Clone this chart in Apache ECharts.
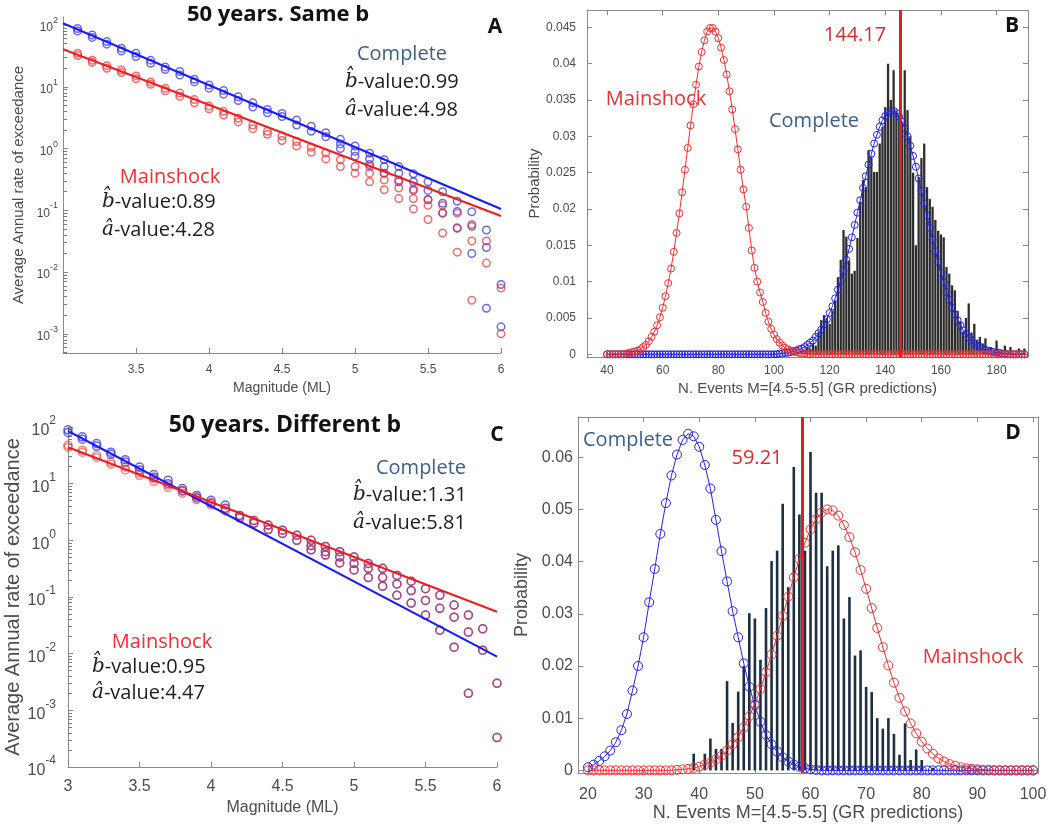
<!DOCTYPE html>
<html>
<head>
<meta charset="utf-8">
<script src="https://cdn.jsdelivr.net/npm/echarts@6/dist/echarts.min.js"></script>
<style>
  html, body { margin: 0; padding: 0; background: #fff; }
  #chart { width: 1049px; height: 828px; }
</style>
</head>
<body>
<div id="chart"></div>
<script>
// ---------- panel A : 50 years, same b ----------
const magA = [3.1, 3.2, 3.3, 3.4, 3.5, 3.6, 3.7, 3.8, 3.9, 4.0, 4.1, 4.2, 4.3, 4.4, 4.5,
              4.6, 4.7, 4.8, 4.9, 5.0, 5.1, 5.2, 5.3, 5.4, 5.5, 5.6, 5.7, 5.8, 5.9, 6.0];
const completeRatesA = [
  [88, 80], [69, 63], [54, 49], [42, 38], [35, 31], [27, 24], [21, 19], [17.7, 15.5],
  [13.2, 12], [10.7, 9.5], [8.7, 7.6], [6.9, 6.0], [5.5, 4.7], [4.3, 3.8], [3.7, 3.3],
  [2.9, 2.4], [2.3, 1.9], [1.8, 1.55], [1.41, 1.19, 1.0], [1.1, 0.9, 0.75],
  [0.84, 0.68, 0.55], [0.66, 0.51, 0.40], [0.51, 0.40, 0.29], [0.39, 0.29, 0.21],
  [0.29, 0.21, 0.15], [0.20, 0.13, 0.09], [0.14, 0.096, 0.052], [0.095, 0.055, 0.020],
  [0.048, 0.025, 0.0026], [0.0063, 0.0013]
];
const mainshockRatesA = [
  [35, 32], [27, 25], [22, 20], [18.7, 17], [15, 13.5], [12, 11], [9.5, 8.6], [7.9, 7.0],
  [6.2, 5.5], [4.9, 4.4], [4.0, 3.5], [3.1, 2.7], [2.4, 2.1], [1.9, 1.7], [1.6, 1.35],
  [1.3, 1.1], [1.05, 0.87], [0.85, 0.68], [0.66, 0.51], [0.51, 0.40],
  [0.51, 0.40, 0.29], [0.40, 0.31, 0.215], [0.31, 0.23, 0.155], [0.22, 0.155, 0.105],
  [0.148, 0.12, 0.071], [0.12, 0.091, 0.043], [0.09, 0.051, 0.021], [0.059, 0.032, 0.0035],
  [0.032, 0.014], [0.0055, 0.001]
];
const completeFitA = [[3.0, 107], [6.0, 0.105]];
const mainshockFitA = [[3.0, 40.6], [6.0, 0.081]];
const xTicksA = [3.5, 4, 4.5, 5, 5.5, 6];

// ---------- panel C : 50 years, different b ----------
const magC = [3.0, 3.1, 3.2, 3.3, 3.4, 3.5, 3.6, 3.7, 3.8, 3.9, 4.0, 4.1, 4.2, 4.3, 4.4, 4.5,
              4.6, 4.7, 4.8, 4.9, 5.0, 5.1, 5.2, 5.3, 5.4, 5.5, 5.6, 5.7, 5.8, 5.9, 6.0];
const completeHeadC = [
  [89, 80], [67, 61], [51, 46], [36, 33], [26.5, 24], [19.6, 17.5], [14.5, 13], [11.5, 10],
  [8.2, 7.4], [6.2, 5.6], [5.1, 4.5], [4.2, 3.7]
];
const mainshockHeadC = [
  [48, 44], [39, 36], [31.6, 29], [24, 22], [19.6, 17.5], [15.4, 14], [12.3, 11], [9.4, 8.6],
  [7.6, 6.8], [5.8, 5.2], [4.7, 4.2], [3.6, 3.3]
];
// M >= 4.2 : both catalogues give the same circles
const sharedTailC = [
  [2.75, 2.5], [2.24, 2.0], [1.86, 1.55], [1.51, 1.32], [1.23, 1.0], [1.0, 0.81, 0.68],
  [0.78, 0.63, 0.55], [0.63, 0.51, 0.40], [0.51, 0.39, 0.30], [0.39, 0.32, 0.22],
  [0.32, 0.22, 0.155], [0.24, 0.17, 0.107], [0.19, 0.13, 0.078], [0.14, 0.087, 0.048],
  [0.107, 0.063, 0.026], [0.072, 0.044, 0.013], [0.048, 0.024, 0.002], [0.0275, 0.0115],
  [0.003, 0.00033]
];
const completeFitC = [[3.0, 85], [6.0, 0.0089]];
const mainshockFitC = [[3.0, 44], [6.0, 0.055]];
const xTicksC = [3, 3.5, 4, 4.5, 5, 5.5, 6];

// ---------- panel B : distributions, same b ----------
const eventsStartB = 40;   // circles at every integer 40..190
const probCompleteB = [
  0, 0, 0, 0, 0, 0, 0, 0, 0, 0,
  0, 0, 0, 0, 0, 0, 0, 0, 0, 0,
  0, 0, 0, 0, 0, 0, 0, 0, 0, 0,
  0, 0, 0, 0, 0, 0, 0, 0, 0, 0,
  0, 0, 0, 0, 0, 0, 0, 0, 0, 0,
  0, 0, 0, 0, 0, 0, 0, 0, 0, 0,
  0, 0,
  0.0001, 0.0001, 0.0002, 0.0002, 0.0003, 0.0004, 0.0005, 0.0007, 0.0008, 0.0010,
  0.0013, 0.0016, 0.0019, 0.0024, 0.0029, 0.0034, 0.0041, 0.0048, 0.0057, 0.0066,
  0.0077, 0.0089, 0.0101, 0.0115, 0.0130, 0.0145, 0.0161, 0.0178, 0.0195, 0.0212,
  0.0229, 0.0245, 0.0261, 0.0276, 0.0290, 0.0302, 0.0313, 0.0322, 0.0328, 0.0333,
  0.0335, 0.0335, 0.0332, 0.0327, 0.0320, 0.0311, 0.0300, 0.0287, 0.0273, 0.0258,
  0.0242, 0.0225, 0.0208, 0.0191, 0.0174, 0.0158, 0.0142, 0.0127, 0.0112, 0.0099,
  0.0086, 0.0075, 0.0064, 0.0055, 0.0047, 0.0040, 0.0033, 0.0028, 0.0023, 0.0019,
  0.0015, 0.0012, 0.0010, 0.0008, 0.0006, 0.0005, 0.0004, 0.0003, 0.0002, 0.0002,
  0.0001, 0.0001,
  0, 0, 0, 0, 0, 0, 0
];
const probMainshockB = [
  0, 0, 0, 0, 0, 0, 0,
  0.0001, 0.0002, 0.0003, 0.0004, 0.0005, 0.0007, 0.0010, 0.0013, 0.0018, 0.0024,
  0.0031, 0.0040, 0.0051, 0.0064, 0.0080, 0.0098, 0.0118, 0.0141, 0.0167, 0.0194,
  0.0223, 0.0254, 0.0284, 0.0315, 0.0344, 0.0371, 0.0396, 0.0416, 0.0432, 0.0444,
  0.0449, 0.0449, 0.0444, 0.0435, 0.0422, 0.0405, 0.0385, 0.0362, 0.0337, 0.0310,
  0.0282, 0.0254, 0.0227, 0.0203, 0.0174, 0.0143, 0.0119, 0.0100, 0.0085, 0.0072,
  0.0057, 0.0045, 0.0035, 0.0027, 0.0021, 0.0016, 0.0012, 0.0009, 0.0007, 0.0005,
  0.0004, 0.0003, 0.0002, 0.0001, 0.0001,
  0, 0, 0, 0, 0, 0, 0, 0, 0, 0,
  0, 0, 0, 0, 0, 0, 0, 0, 0, 0,
  0, 0, 0, 0, 0, 0, 0, 0, 0, 0,
  0, 0, 0, 0, 0, 0, 0, 0, 0, 0,
  0, 0, 0, 0, 0, 0, 0, 0, 0, 0,
  0, 0, 0, 0, 0, 0, 0, 0, 0, 0,
  0, 0, 0, 0, 0, 0, 0, 0, 0, 0,
  0, 0, 0, 0, 0, 0, 0, 0, 0
];
const histStartB = 110;    // bars at every integer 110..190
const histB = [
  0.0004, 0.0006, 0.0010, 0.0008, 0.0015, 0.0012, 0.0030, 0.0047, 0.0054, 0.0050,
  0.0042, 0.0060, 0.0074, 0.0106, 0.0130, 0.0171, 0.0162, 0.0129, 0.0111, 0.0115,
  0.0160, 0.0210, 0.0240, 0.0230, 0.0281, 0.0272, 0.0251, 0.0251, 0.0290, 0.0313,
  0.0340, 0.0400, 0.0350, 0.0391, 0.0335, 0.0330, 0.0320, 0.0391, 0.0336, 0.0300,
  0.0250, 0.0150, 0.0244, 0.0270, 0.0290, 0.0230, 0.0214, 0.0203, 0.0185, 0.0170,
  0.0165, 0.0161, 0.0120, 0.0111, 0.0095, 0.0088, 0.0060, 0.0045, 0.0031, 0.0050,
  0.0070, 0.0030, 0.0042, 0.0020, 0.0024, 0.0015, 0.0022, 0.0008, 0.0010, 0.0006,
  0.0019, 0.0005, 0.0004, 0.0012, 0.0003, 0.0010, 0.0002, 0.0003, 0.0008, 0.0002,
  0.0008
];
const observedB = 145.4;   // red line, labelled 144.17
const xTicksB = [40, 60, 80, 100, 120, 140, 160, 180];
const yTicksB = [0, 0.005, 0.01, 0.015, 0.02, 0.025, 0.03, 0.035, 0.04, 0.045];

// ---------- panel D : distributions, different b ----------
const eventsStartD = 20;   // circles at every integer 20..100
const probCompleteD = [
  0.0006, 0.0011, 0.0018, 0.0027, 0.0038, 0.0054, 0.0077, 0.0108, 0.0153, 0.0200,
  0.0255, 0.0322, 0.0386, 0.0453, 0.0512, 0.0565, 0.0605, 0.0633, 0.0645, 0.0640,
  0.0620, 0.0585, 0.0540, 0.0480, 0.0420, 0.0362, 0.0305, 0.0255, 0.0205, 0.0160,
  0.0125, 0.0093, 0.0068, 0.0050, 0.0036, 0.0025, 0.0017, 0.0011, 0.0007, 0.0004,
  0.0002, 0.0001,
  0, 0, 0, 0, 0, 0, 0, 0, 0, 0,
  0, 0, 0, 0, 0, 0, 0, 0, 0, 0,
  0, 0, 0, 0, 0, 0, 0, 0, 0, 0,
  0, 0, 0, 0, 0, 0, 0, 0, 0
];
const probMainshockD = [
  0, 0, 0, 0, 0, 0, 0, 0, 0, 0, 0, 0, 0, 0, 0, 0,
  0.0001, 0.0002, 0.0003, 0.0005, 0.0007, 0.0011, 0.0015, 0.0021, 0.0028, 0.0038,
  0.0050, 0.0064, 0.0082, 0.0104, 0.0128, 0.0156, 0.0188, 0.0222, 0.0258, 0.0296,
  0.0333, 0.0370, 0.0405, 0.0436, 0.0462, 0.0481, 0.0494, 0.0500, 0.0498, 0.0488,
  0.0470, 0.0447, 0.0418, 0.0384, 0.0348, 0.0311, 0.0273, 0.0236, 0.0201, 0.0168,
  0.0139, 0.0113, 0.0090, 0.0071, 0.0055, 0.0042, 0.0032, 0.0023, 0.0017, 0.0012,
  0.0009, 0.0006, 0.0004, 0.0003, 0.0002, 0.0001, 0.0001,
  0, 0, 0, 0, 0, 0, 0, 0
];
const histStartD = 39;     // bars at every integer 39..82
const histD = [
  0.0032, 0, 0.0032, 0.0061, 0.0041, 0.0041, 0.0171, 0.0091, 0.0151, 0.0200,
  0.0301, 0.0291, 0.0212, 0.0311, 0.0401, 0.0421, 0.0511, 0.0351, 0.0581, 0.0490,
  0.0421, 0.0610, 0.0532, 0.0532, 0.0391, 0.0421, 0.0431, 0.0291, 0.0332, 0.0220,
  0.0230, 0.0160, 0.0150, 0.0100, 0.0080, 0.0100, 0.0070, 0.0030, 0.0090, 0.0020,
  0.0040, 0.0020, 0, 0.0005
];
const observedD = 58.5;    // red line, labelled 59.21
const xTicksD = [20, 30, 40, 50, 60, 70, 80, 90, 100];
const yTicksD = [0, 0.01, 0.02, 0.03, 0.04, 0.05, 0.06];

// ---------- styling ----------
const RED = '#ee3030';
const BLUE = '#2424e0';
const STEEL = '#3d6088';
const AXIS = '#8a8a8a';
const LABEL = '#4d4d4d';
const TICKFONT = 'Liberation Sans';
const TEXTFONT = 'Open Sans';

function circlesFrom(mags, rates) {
  const out = [];
  mags.forEach((m, i) => rates[i].forEach(v => out.push([m, v])));
  return out;
}
function curveFrom(start, values) {
  return values.map((v, i) => [start + i, v]);
}

const decadesA = [1e-3, 1e-2, 1e-1, 1, 10, 100];
const decadesC = [1e-4, 1e-3, 1e-2, 1e-1, 1, 10, 100];
function minorTicks(fromExp, toExp, lo, hi) {
  const t = [];
  for (let e = fromExp; e <= toExp; e++) {
    for (let k = 2; k <= 9; k++) {
      const v = k * Math.pow(10, e);
      if (v > lo && v < hi) t.push(v);
    }
  }
  return t;
}
const yMinA = Math.pow(10, -3.31), yMaxA = Math.pow(10, 2.13);
const minorA = minorTicks(-4, 2, yMinA, yMaxA);
const minorC = minorTicks(-4, 2, 1e-4, 100);

function powLabel(v) {
  return '{b|10}{s|' + Math.round(Math.log10(v)) + '}';
}
function powRich(size) {
  return {
    b: { fontSize: size, fontFamily: TICKFONT, color: LABEL, lineHeight: size * 1.5, verticalAlign: 'bottom' },
    s: { fontSize: Math.round(size * 0.72), fontFamily: TICKFONT, color: LABEL, lineHeight: size * 0.7, verticalAlign: 'top' }
  };
}
function nameStyle(size) {
  return { fontSize: size, fontFamily: TICKFONT, color: LABEL };
}

function xAxisOf(grid, min, max, ticks, opts) {
  return Object.assign({
    gridIndex: grid, type: 'value', min: min, max: max,
    axisLine: { show: true, onZero: false, lineStyle: { color: AXIS, width: 1 } },
    axisTick: { show: true, inside: true, length: 5, customValues: ticks, lineStyle: { color: AXIS } },
    axisLabel: { customValues: ticks, fontSize: 12, fontFamily: TICKFONT, color: LABEL, margin: 8 },
    splitLine: { show: false }
  }, opts);
}
function yAxisOf(grid, type, min, max, ticks, opts) {
  return Object.assign({
    gridIndex: grid, type: type, min: min, max: max,
    axisLine: { show: true, onZero: false, lineStyle: { color: AXIS, width: 1 } },
    axisTick: { show: true, inside: true, length: 5, customValues: ticks, lineStyle: { color: AXIS } },
    axisLabel: { customValues: ticks, fontSize: 12, fontFamily: TICKFONT, color: LABEL, margin: 8 },
    splitLine: { show: false }
  }, opts);
}

function circleSeries(x, y, data, color, size) {
  return {
    type: 'scatter', xAxisIndex: x, yAxisIndex: y, data: data, silent: true,
    symbol: 'circle', symbolSize: size,
    itemStyle: { color: 'rgba(0,0,0,0)', borderColor: color, borderWidth: 1.5 }
  };
}
function fitSeries(x, y, data, color) {
  return {
    type: 'line', xAxisIndex: x, yAxisIndex: y, data: data, silent: true,
    symbol: 'none', lineStyle: { color: color, width: 2 }
  };
}
function curveSeries(x, y, data, color, size) {
  return {
    type: 'line', xAxisIndex: x, yAxisIndex: y, data: data, silent: true,
    symbol: 'circle', symbolSize: size, showSymbol: true,
    itemStyle: { color: 'rgba(0,0,0,0)', borderColor: color, borderWidth: 1 },
    lineStyle: { color: color, width: 1 }
  };
}
function histSeries(x, y, data, color, width, observed) {
  return {
    type: 'bar', xAxisIndex: x, yAxisIndex: y, data: data, silent: true,
    barWidth: width, itemStyle: { color: color },
    markLine: {
      silent: true, symbol: 'none', label: { show: false },
      lineStyle: { color: '#e01e1e', width: 3, type: 'solid' },
      data: [{ xAxis: observed }]
    }
  };
}

function text(x, y, str, font, color, align) {
  return {
    type: 'text', x: x, y: y, silent: true, z: 100,
    style: { text: str, font: font, fill: color, textAlign: align || 'center', textVerticalAlign: 'middle' }
  };
}
function param(x, y, letter, rest) {
  return {
    type: 'text', x: x, y: y, silent: true, z: 100,
    style: {
      text: '{m|' + letter + '}{t|' + rest + '}',
      textAlign: 'left', textVerticalAlign: 'middle',
      rich: {
        m: { fontFamily: 'DejaVu Serif', fontStyle: 'italic', fontSize: 20, fill: '#1e1e1e' },
        t: { fontFamily: TEXTFONT, fontSize: 20, fill: '#1e1e1e' }
      }
    }
  };
}
const B_HAT = 'b\u0302';
const A_HAT = 'a\u0302';

const chart = echarts.init(document.getElementById('chart'), null, { renderer: 'canvas' });

const option = {
  animation: false,
  backgroundColor: '#fff',
  grid: [
    { left: 63, top: 17, width: 438, height: 336, outerBoundsMode: 'none' },
    { left: 587, top: 10, width: 441, height: 347, outerBoundsMode: 'none' },
    { left: 68, top: 427, width: 429, height: 340, outerBoundsMode: 'none' },
    { left: 578, top: 417, width: 460, height: 356, outerBoundsMode: 'none' }
  ],
  xAxis: [
    xAxisOf(0, 3.0, 6, xTicksA, {
      position: 'bottom',
      axisLabel: { customValues: xTicksA, fontSize: 12, fontFamily: TICKFONT, color: LABEL, margin: 11 },
      name: 'Magnitude (ML)', nameLocation: 'middle', nameGap: 28, nameTextStyle: nameStyle(14)
    }),
    xAxisOf(1, 32.8, 191.3, xTicksB, {
      position: 'bottom',
      axisLabel: { customValues: xTicksB, fontSize: 12, fontFamily: TICKFONT, color: LABEL, margin: 8 },
      name: 'N. Events M=[4.5-5.5] (GR predictions)', nameLocation: 'middle', nameGap: 24, nameTextStyle: nameStyle(15)
    }),
    xAxisOf(1, 32.8, 191.3, xTicksB, { position: 'top', axisLabel: { show: false } }),
    xAxisOf(2, 3.0, 6, xTicksC, {
      position: 'bottom',
      axisLabel: { customValues: xTicksC, fontSize: 16, fontFamily: TICKFONT, color: LABEL, margin: 12 },
      name: 'Magnitude (ML)', nameLocation: 'middle', nameGap: 33, nameTextStyle: nameStyle(16)
    }),
    xAxisOf(3, 18.2, 100.9, xTicksD, {
      position: 'bottom',
      axisLabel: { customValues: xTicksD, fontSize: 16, fontFamily: TICKFONT, color: LABEL, margin: 14 },
      name: 'N. Events M=[4.5-5.5] (GR predictions)', nameLocation: 'middle', nameGap: 31, nameTextStyle: nameStyle(18)
    }),
    xAxisOf(3, 18.2, 100.9, xTicksD, { position: 'top', axisLabel: { show: false } })
  ],
  yAxis: [
    yAxisOf(0, 'log', yMinA, yMaxA, decadesA, {
      logBase: 10, position: 'left',
      axisLabel: { customValues: decadesA, formatter: powLabel, rich: powRich(12), margin: 5 },
      name: 'Average Annual rate of exceedance', nameLocation: 'middle', nameGap: 37, nameTextStyle: nameStyle(15)
    }),
    yAxisOf(0, 'log', yMinA, yMaxA, minorA, {
      logBase: 10, position: 'left', offset: 0, axisLine: { show: false }, axisLabel: { show: false },
      axisTick: { show: true, inside: true, length: 4, customValues: minorA, lineStyle: { color: '#7a7a7a' } }
    }),
    yAxisOf(1, 'value', -0.00037, 0.04738, yTicksB, {
      position: 'left',
      axisLabel: { customValues: yTicksB, fontSize: 12, fontFamily: TICKFONT, color: LABEL, margin: 11 },
      name: 'Probability', nameLocation: 'middle', nameGap: 45, nameTextStyle: nameStyle(15)
    }),
    yAxisOf(1, 'value', -0.00037, 0.04738, yTicksB, { position: 'right', axisLabel: { show: false } }),
    yAxisOf(2, 'log', 1e-4, 100, decadesC, {
      logBase: 10, position: 'left',
      axisLabel: { customValues: decadesC, formatter: powLabel, rich: powRich(16), margin: 12 },
      name: 'Average Annual rate of exceedance', nameLocation: 'middle', nameGap: 41, nameTextStyle: nameStyle(20)
    }),
    yAxisOf(2, 'log', 1e-4, 100, minorC, {
      logBase: 10, position: 'left', offset: 0, axisLine: { show: false }, axisLabel: { show: false },
      axisTick: { show: true, inside: true, length: 4, customValues: minorC, lineStyle: { color: '#7a7a7a' } }
    }),
    yAxisOf(3, 'value', -0.0005, 0.0677, yTicksD, {
      position: 'left',
      axisLabel: { customValues: yTicksD, fontSize: 16, fontFamily: TICKFONT, color: LABEL, margin: 5 },
      name: 'Probability', nameLocation: 'middle', nameGap: 47, nameTextStyle: nameStyle(18)
    }),
    yAxisOf(3, 'value', -0.0005, 0.0677, yTicksD, { position: 'right', axisLabel: { show: false } })
  ],
  series: [
    // A
    circleSeries(0, 0, circlesFrom(magA, completeRatesA), 'rgba(45,45,225,0.88)', 7.5),
    circleSeries(0, 0, circlesFrom(magA, mainshockRatesA), 'rgba(235,45,45,0.88)', 7.5),
    fitSeries(0, 0, completeFitA, '#1a1aff'),
    fitSeries(0, 0, mainshockFitA, '#f01c1c'),
    // B
    histSeries(1, 2, curveFrom(histStartB, histB), '#2e2e2e', 2.3, observedB),
    curveSeries(1, 2, curveFrom(eventsStartB, probCompleteB), BLUE, 7),
    curveSeries(1, 2, curveFrom(eventsStartB, probMainshockB), RED, 7),
    // C
    circleSeries(3, 4, circlesFrom(magC, completeHeadC.concat(sharedTailC)), 'rgba(45,45,225,0.9)', 8),
    circleSeries(3, 4, circlesFrom(magC, mainshockHeadC.concat(sharedTailC)), 'rgba(235,45,45,0.72)', 8),
    fitSeries(3, 4, completeFitC, '#1a1aff'),
    fitSeries(3, 4, mainshockFitC, '#f01c1c'),
    // D
    histSeries(4, 6, curveFrom(histStartD, histD), '#1d2f40', 2.6, observedD),
    curveSeries(4, 6, curveFrom(eventsStartD, probCompleteD), BLUE, 9),
    curveSeries(4, 6, curveFrom(eventsStartD, probMainshockD), RED, 9)
  ],
  graphic: [
    // A
    text(278, 15, '50 years. Same b', 'bold 22px "Open Sans"', '#111'),
    text(495, 27, 'A', 'bold 21px "Open Sans"', '#111'),
    text(402, 54, 'Complete', '20px "Open Sans"', STEEL),
    param(345, 82, B_HAT, '-value:0.99'),
    param(345, 110, A_HAT, '-value:4.98'),
    text(170, 177, 'Mainshock', '20px "Open Sans"', RED),
    param(102, 202, B_HAT, '-value:0.89'),
    param(102, 230, A_HAT, '-value:4.28'),
    // B
    text(855, 35, '144.17', '20px "Open Sans"', '#dc2a2a'),
    text(1012, 26, 'B', 'bold 21px "Open Sans"', '#111'),
    text(656, 99, 'Mainshock', '20px "Open Sans"', RED),
    text(814, 121, 'Complete', '20px "Open Sans"', STEEL),
    // C
    text(285, 425, '50 years. Different b', 'bold 23px "Open Sans"', '#111'),
    text(497, 435, 'C', 'bold 21px "Open Sans"', '#111'),
    text(421, 468, 'Complete', '20px "Open Sans"', STEEL),
    param(353, 495, B_HAT, '-value:1.31'),
    param(353, 523, A_HAT, '-value:5.81'),
    text(162, 642, 'Mainshock', '20px "Open Sans"', RED),
    param(92, 667, B_HAT, '-value:0.95'),
    param(92, 693, A_HAT, '-value:4.47'),
    // D
    text(583, 440, 'Complete', '20px "Open Sans"', STEEL, 'left'),
    text(757, 458, '59.21', '20px "Open Sans"', '#dc2a2a'),
    text(1013, 433, 'D', 'bold 21px "Open Sans"', '#111'),
    text(973, 657, 'Mainshock', '20px "Open Sans"', RED)
  ]
};

chart.setOption(option);
</script>
</body>
</html>
